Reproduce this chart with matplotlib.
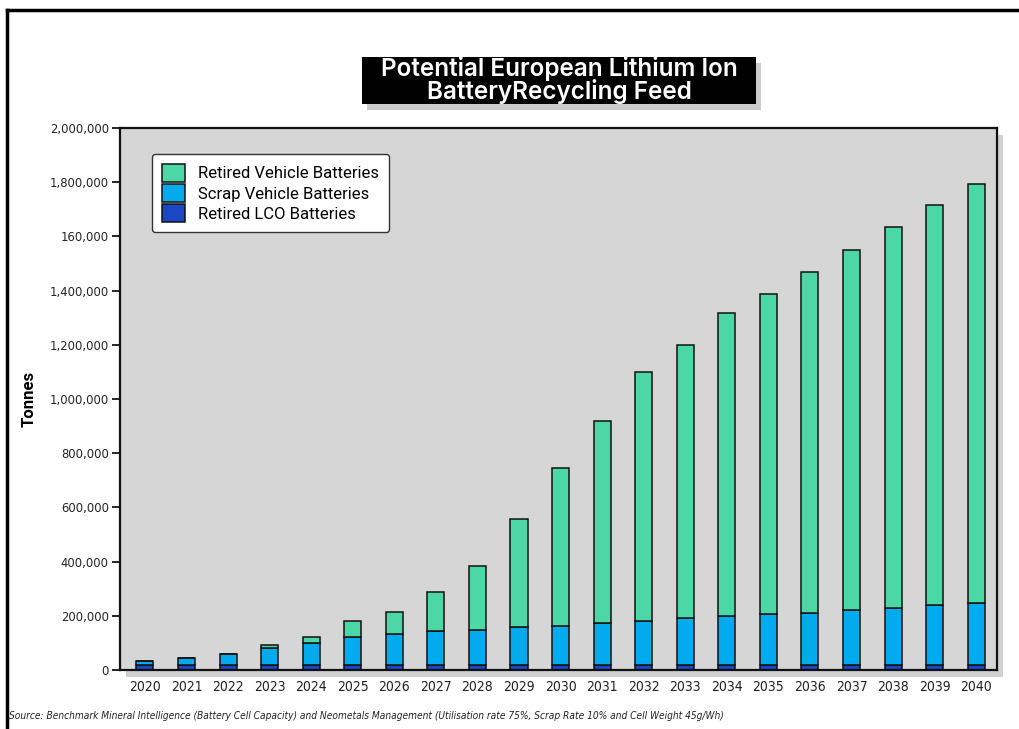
import matplotlib.pyplot as plt
import matplotlib.patches as mpatches
from matplotlib.lines import Line2D
from matplotlib.ticker import FixedLocator, FixedFormatter

# data (tonnes)
years = [str(y) for y in range(2020, 2041)]
lco = [20000, 20000, 20000, 20000, 20000, 20000, 20000, 20000, 20000, 20000, 20000,
       20000, 20000, 20000, 20000, 20000, 20000, 20000, 20000, 20000, 20000]
scrap = [15000, 26000, 40000, 61000, 80000, 100000, 111000, 123000, 128000, 140000, 144000,
         154000, 161000, 171000, 181000, 187000, 190000, 203000, 210000, 220000, 228000]
retired = [0, 0, 0, 10000, 22000, 61000, 83000, 146000, 237000, 397000, 580000,
           743000, 917000, 1010000, 1117000, 1181000, 1257000, 1327000, 1404000, 1475000, 1546000]
ytick_vals = [0, 200000, 400000, 600000, 800000, 1000000, 1200000, 1400000, 1600000, 1800000, 2000000]
ytick_labels = ['0', '200,000', '400,000', '600,000', '800,000', '1,000,000', '1,200,000',
                '1,400,000', '160,000', '1,800,000', '2,000,000']

c_retired = '#4dd6a6'
c_scrap = '#02aaee'
c_lco = '#1b46c6'

W, H = 1019, 729
fig = plt.figure(figsize=(W / 100, H / 100), dpi=100)


def fx(px):
    return px / W


def fy(py):
    return 1 - py / H


# outer frame
fig.add_artist(Line2D([fx(7), fx(7)], [fy(729), fy(10)], color='black', lw=2.5))
fig.add_artist(Line2D([fx(7), fx(1019)], [fy(10), fy(10)], color='black', lw=2.5))

# title box with shadow
fig.add_artist(mpatches.Rectangle((fx(367), fy(110)), fx(394), 47 / H, color='#999999',
                                  alpha=0.5, lw=0, zorder=1))
fig.add_artist(mpatches.Rectangle((fx(362), fy(104)), fx(394), 47 / H, color='black',
                                  lw=0, zorder=2))
fig.text(fx(559), fy(80), 'Potential European Lithium Ion\nBatteryRecycling Feed',
         ha='center', va='center', color='white', fontsize=17.5, fontweight='semibold',
         family='Inter', linespacing=0.92, zorder=3)

# axes
left, right, top, bottom = 120, 997, 128, 670
ax = fig.add_axes([fx(left), fy(bottom), fx(right - left), (bottom - top) / H])
# shadow behind the plot area
fig.add_artist(mpatches.Rectangle((fx(left + 6), fy(bottom + 7)), fx(right - left), (bottom - top) / H,
                                  color='#9a9a9a', alpha=0.45, lw=0, zorder=0))
ax.set_facecolor('#d6d6d6')
ax.set_zorder(1)

x = list(range(len(years)))
w = 0.41
b2 = [a + b for a, b in zip(lco, scrap)]
ax.bar(x, lco, w, color=c_lco, edgecolor='#111111', lw=1.1, label='Retired LCO Batteries')
ax.bar(x, scrap, w, bottom=lco, color=c_scrap, edgecolor='#111111', lw=1.1,
       label='Scrap Vehicle Batteries')
ax.bar(x, retired, w, bottom=b2, color=c_retired, edgecolor='#111111', lw=1.1,
       label='Retired Vehicle Batteries')

ax.set_xlim(-0.6, 20.5)
ax.set_ylim(0, 2000000)
ax.yaxis.set_major_locator(FixedLocator(ytick_vals))
ax.yaxis.set_major_formatter(FixedFormatter(ytick_labels))
ax.set_xticks(x)
ax.set_xticklabels(years)
ax.tick_params(axis='y', length=6, width=1.2, labelsize=9.3, pad=2)
ax.tick_params(axis='x', length=0, labelsize=10, pad=7)
for lab in ax.get_yticklabels() + ax.get_xticklabels():
    lab.set_family('DejaVu Sans')
    lab.set_stretch('condensed')
    lab.set_color('#222222')
for s in ax.spines.values():
    s.set_linewidth(1.6)
    s.set_color('#111111')

ax.set_ylabel('Tonnes', fontsize=12, fontweight='bold', family='Roboto')
ax.yaxis.set_label_coords(-(120 - 37) / 877, 0.5)

handles, labels = ax.get_legend_handles_labels()
leg = ax.legend(handles[::-1], labels[::-1], loc='upper left', bbox_to_anchor=(0.027, 0.968),
                frameon=True, fancybox=True, edgecolor='#333333',
                handlelength=1.35, handleheight=1.3, handletextpad=0.8, labelspacing=0.12,
                borderpad=0.6, prop={'family': 'Roboto', 'size': 12})
leg.get_frame().set_linewidth(1.0)
leg.get_frame().set_facecolor('white')
leg.get_frame().set_alpha(1)

fig.text(fx(9), fy(716), 'Source: Benchmark Mineral Intelligence (Battery Cell Capacity) and Neometals '
         'Management (Utilisation rate 75%, Scrap Rate 10% and Cell Weight 45g/Wh)',
         ha='left', va='center', fontsize=7.3, style='italic', family='DejaVu Sans',
         stretch='condensed', color='#222222')

fig.savefig('out.png', dpi=100)
